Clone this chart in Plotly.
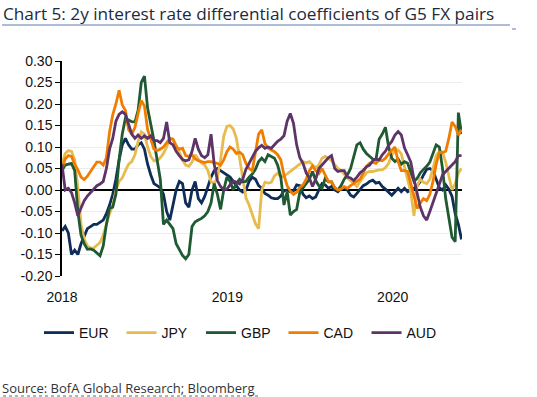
import pandas as pd
import plotly.graph_objects as go

# Weekly observations, Jan 2018 - end May 2020
dates = pd.date_range("2018-01-01", periods=127, freq="7D")

eur = [-0.095, -0.085, -0.10, -0.15, -0.14, -0.15, -0.125, -0.105, -0.09, -0.085,
       -0.08, -0.08, -0.075, -0.07, -0.055, -0.035, -0.01, 0.025, 0.07, 0.105,
       0.12, 0.105, 0.095, 0.095, 0.105, 0.11, 0.095, 0.06, 0.035, 0.015,
       0.01, 0.005, -0.01, -0.05, -0.07, -0.035, 0.0, 0.02, 0.015, -0.03,
       -0.04, 0.0, 0.02, -0.02, -0.03, -0.015, 0.01, 0.03, 0.045, 0.05,
       0.045, 0.04, 0.035, 0.03, 0.02, 0.01, 0.0, -0.005, 0.0, 0.02,
       0.03, 0.025, 0.01, 0.004, -0.008, -0.012, -0.018, -0.02, -0.02, -0.014,
       -0.002, 0.0, -0.004, -0.002, 0.012, 0.01, -0.01, -0.018, -0.014, -0.02,
       -0.016, 0.0, 0.015, 0.012, 0.004, 0.008, 0.0, -0.004, 0.004, 0.004,
       0.0, -0.012, -0.016, -0.008, 0.002, 0.01, 0.014, 0.02, 0.023, 0.016,
       0.018, 0.008, 0.002, -0.006, -0.012, -0.004, 0.004, -0.004, 0.004, -0.004,
       0.0, 0.004, 0.01, 0.02, 0.035, 0.048, 0.05, 0.045, 0.025, 0.005,
       0.0, 0.012, 0.002, -0.015, -0.055, -0.08, -0.115]

jpy = [0.06, 0.085, 0.092, 0.09, 0.07, 0.005, -0.08, -0.115, -0.13, -0.135,
       -0.135, -0.128, -0.122, -0.105, -0.078, -0.055, -0.035, -0.002, 0.02, 0.028,
       0.045, 0.06, 0.066, 0.082, 0.113, 0.135, 0.13, 0.10, 0.078, 0.068,
       0.068, 0.075, 0.085, 0.10, 0.12, 0.118, 0.105, 0.085, 0.07, 0.058,
       0.055, 0.065, 0.082, 0.072, 0.063, 0.058, 0.045, 0.02, 0.015, 0.028,
       0.07, 0.125, 0.148, 0.15, 0.142, 0.12, 0.075, 0.025, -0.018, -0.035,
       -0.055, -0.078, -0.09, 0.0, 0.018, 0.016, 0.018, 0.033, 0.039, 0.03,
       0.032, 0.038, 0.044, 0.048, 0.055, 0.062, 0.066, 0.063, 0.066, 0.058,
       0.052, 0.058, 0.074, 0.078, 0.074, 0.068, 0.058, 0.05, 0.045, 0.036,
       0.028, 0.022, 0.014, 0.008, 0.02, 0.03, 0.04, 0.043, 0.043, 0.045,
       0.047, 0.047, 0.052, 0.062, 0.082, 0.09, 0.093, 0.084, 0.052, 0.027,
       -0.005, -0.06, 0.01, 0.025, 0.018, 0.015, 0.025, 0.05, 0.08, 0.09,
       0.088, 0.065, 0.03, 0.0, 0.015, 0.04, 0.05]

gbp = [0.045, 0.058, 0.06, 0.062, 0.045, -0.05, -0.105, -0.125, -0.138, -0.137,
       -0.14, -0.146, -0.153, -0.13, -0.08, -0.042, -0.04, -0.01, 0.07, 0.13,
       0.167, 0.163, 0.159, 0.158, 0.185, 0.25, 0.265, 0.19, 0.155, 0.115,
       0.07, 0.025, -0.08, -0.07, -0.08, -0.09, -0.125, -0.14, -0.152, -0.16,
       -0.15, -0.085, -0.074, -0.07, -0.066, -0.06, -0.05, -0.03, 0.015, -0.01,
       -0.045, 0.0, 0.03, 0.02, 0.0, 0.015, 0.025, 0.019, 0.02, 0.03,
       0.037, 0.048, 0.066, 0.074, 0.066, 0.082, 0.078, 0.074, 0.058, 0.03,
       -0.035, -0.004, -0.058, -0.05, -0.045, -0.005, 0.005, 0.015, 0.025, 0.043,
       0.022, 0.01, 0.004, 0.027, 0.019, 0.019, 0.004, 0.0, 0.01, 0.025,
       0.035, 0.05, 0.08, 0.105, 0.11, 0.095, 0.085, 0.078, 0.072, 0.07,
       0.118, 0.13, 0.146, 0.10, 0.074, 0.066, 0.072, 0.06, 0.066, 0.062,
       0.04, 0.02, 0.027, 0.04, 0.048, 0.055, 0.065, 0.085, 0.105, 0.10,
       0.05, -0.02, -0.07, -0.11, -0.12, 0.18, 0.13]

cad = [0.05, 0.072, 0.08, 0.078, 0.06, 0.047, 0.03, 0.024, 0.032, 0.043,
       0.052, 0.065, 0.065, 0.058, 0.075, 0.135, 0.175, 0.20, 0.232, 0.198,
       0.185, 0.14, 0.13, 0.145, 0.178, 0.208, 0.195, 0.14, 0.118, 0.095,
       0.092, 0.095, 0.10, 0.11, 0.12, 0.118, 0.10, 0.095, 0.097, 0.08,
       0.078, 0.082, 0.072, 0.068, 0.066, 0.064, 0.066, 0.066, 0.063, 0.062,
       0.058, 0.07, 0.089, 0.10, 0.095, 0.085, 0.088, 0.082, 0.062, 0.05,
       0.045, 0.09, 0.13, 0.14, 0.108, 0.097, 0.093, 0.089, 0.082, 0.07,
       0.035, 0.01, -0.002, -0.01, -0.005, 0.006, 0.012, 0.025, 0.045, 0.056,
       0.045, 0.038, 0.05, 0.035, 0.02, 0.019, 0.006, 0.0, 0.002, 0.008,
       0.004, 0.01, 0.016, 0.02, 0.025, 0.04, 0.055, 0.062, 0.064, 0.062,
       0.07, 0.068, 0.074, 0.084, 0.093, 0.10, 0.066, 0.045, 0.045, 0.043,
       0.015, -0.015, -0.043, -0.03, -0.02, -0.025, -0.01, 0.02, 0.06, 0.088,
       0.087, 0.09, 0.12, 0.158, 0.148, 0.128, 0.14]

aud = [0.06, 0.0, 0.004, -0.006, -0.03, -0.06, -0.042, -0.025, -0.014, -0.006,
       0.002, 0.01, 0.014, 0.02, 0.05, 0.095, 0.12, 0.16, 0.176, 0.182,
       0.176, 0.155, 0.13, 0.12, 0.128, 0.12, 0.126, 0.12, 0.126, 0.115,
       0.115, 0.11, 0.12, 0.158, 0.11, 0.105, 0.09, 0.08, 0.071, 0.068,
       0.07, 0.09, 0.12, 0.095, 0.08, 0.075, 0.082, 0.13, 0.06, 0.022,
       0.008, 0.0, 0.002, 0.012, 0.021, 0.018, 0.014, 0.025, 0.048, 0.062,
       0.076, 0.09, 0.098, 0.104, 0.097, 0.10, 0.097, 0.105, 0.113, 0.118,
       0.126, 0.16, 0.178, 0.155, 0.105, 0.075, 0.062, 0.04, 0.028, 0.008,
       0.025, 0.05, 0.058, 0.066, 0.075, 0.08, 0.05, 0.043, 0.045, 0.045,
       0.03, 0.028, 0.022, 0.03, 0.04, 0.046, 0.054, 0.058, 0.068, 0.072,
       0.07, 0.082, 0.09, 0.104, 0.113, 0.128, 0.136, 0.128, 0.098, 0.082,
       0.065, 0.025, -0.01, -0.04, -0.06, -0.07, -0.05, -0.03, -0.01, 0.015,
       0.035, 0.043, 0.05, 0.057, 0.066, 0.08, 0.08]

series_names = ["EUR", "JPY", "GBP", "CAD", "AUD"]
series_values = [eur, jpy, gbp, cad, aud]
colors = ["#0f2d59", "#e8bb4f", "#1f5a33", "#f07d00", "#5d3468"]

y_ticks = [-0.20, -0.15, -0.10, -0.05, 0.0, 0.05, 0.10, 0.15, 0.20, 0.25, 0.30]
x_ticks = ["2018-01-01", "2019-01-01", "2020-01-01"]
x_tick_labels = ["2018", "2019", "2020"]

W, H = 537, 397
L, R, T, B = 62, 75, 61, 121

# legend entry positions (px from left of the figure)
legend_px = [39, 121.5, 201, 283.5, 366.5]
legend_keys = ["legend", "legend2", "legend3", "legend4", "legend5"]

fig = go.Figure()
for name, vals, col, lk in zip(series_names, series_values, colors, legend_keys):
    fig.add_trace(go.Scatter(x=dates, y=vals, mode="lines", name=name,
                             legend=lk, line=dict(color=col, width=2.8)))

layout_legends = {}
for lk, lx in zip(legend_keys, legend_px):
    layout_legends[lk] = dict(orientation="h", xref="container", yref="container",
                              x=lx / W, y=1 - 333 / H, xanchor="left", yanchor="middle",
                              font=dict(size=14, color="#111111"),
                              bgcolor="rgba(0,0,0,0)", borderwidth=0)

fig.update_layout(
    width=W, height=H,
    margin=dict(l=L, r=R, t=T, b=B, pad=0, autoexpand=False),
    paper_bgcolor="white", plot_bgcolor="white",
    font=dict(family="Liberation Sans, Arial, sans-serif", size=14, color="#111111"),
    showlegend=True,
    xaxis=dict(type="date", range=["2018-01-01", "2020-06-02"],
               tickvals=x_ticks, ticktext=x_tick_labels,
               showgrid=False, showline=False, zeroline=False,
               ticks="outside", ticklen=8, tickcolor="rgba(0,0,0,0)",
               tickfont=dict(size=14, color="#111111")),
    yaxis=dict(range=[-0.2, 0.3], tickvals=y_ticks,
               ticktext=[f"{v:.2f}" for v in y_ticks],
               showgrid=True, gridcolor="#ececec", gridwidth=1,
               zeroline=True, zerolinecolor="#000000", zerolinewidth=1.5,
               showline=True, linecolor="#000000", linewidth=1.5,
               ticks="outside", ticklen=5, tickcolor="#000000", tickwidth=1,
               tickfont=dict(size=14, color="#111111")),
    **layout_legends,
)

pw = W - L - R
ph = H - T - B
def px_x(px):
    return (px - L) / pw
def px_y(py):
    return (H - B - py) / ph

# title rule
fig.add_shape(type="line", xref="paper", yref="paper",
              x0=px_x(2), x1=px_x(510), y0=px_y(25), y1=px_y(25),
              line=dict(color="#5b7db1", width=1))
fig.add_shape(type="line", xref="paper", yref="paper",
              x0=px_x(512), x1=px_x(516), y0=px_y(29), y1=px_y(29),
              line=dict(color="#5b7db1", width=1))

fig.add_annotation(text="Chart 5: 2y interest rate differential coefficients of G5 FX pairs",
                   xref="paper", yref="paper", x=px_x(1), y=px_y(13),
                   xanchor="left", yanchor="middle", showarrow=False,
                   font=dict(family="Open Sans, Noto Sans, sans-serif", size=17.2, color="#1c2a3b"))

fig.add_annotation(text="Source: BofA Global Research; Bloomberg",
                   xref="paper", yref="paper", x=px_x(0), y=px_y(388),
                   xanchor="left", yanchor="middle", showarrow=False,
                   font=dict(family="Open Sans, Noto Sans, sans-serif", size=13, color="#333333"))
fig.add_shape(type="line", xref="paper", yref="paper",
              x0=px_x(3), x1=px_x(260), y0=px_y(396), y1=px_y(396),
              line=dict(color="#666666", width=1, dash="dot"))

fig.write_html("out.html", config={"displayModeBar": False},
               post_script="document.body.style.margin='0';document.body.style.overflow='hidden';")
